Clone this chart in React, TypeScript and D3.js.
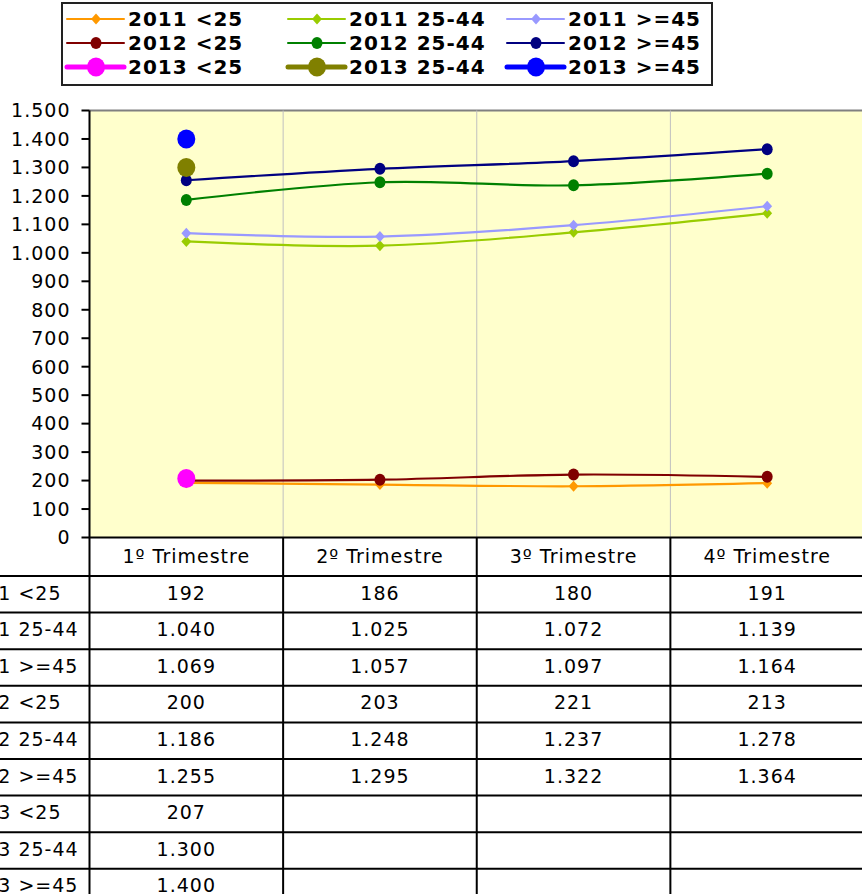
import React from 'react';
import * as d3 from 'd3';

const quarters = ['1º Trimestre', '2º Trimestre', '3º Trimestre', '4º Trimestre'];
const seriesNames = [
  '2011 <25', '2011 25-44', '2011 >=45',
  '2012 <25', '2012 25-44', '2012 >=45',
  '2013 <25', '2013 25-44', '2013 >=45',
];
const s2011u25 = [192, 186, 180, 191];
const s2011m = [1040, 1025, 1072, 1139];
const s2011o45 = [1069, 1057, 1097, 1164];
const s2012u25 = [200, 203, 221, 213];
const s2012m = [1186, 1248, 1237, 1278];
const s2012o45 = [1255, 1295, 1322, 1364];
const s2013u25 = [207];
const s2013m = [1300];
const s2013o45 = [1400];
const yTicks = d3.range(0, 1501, 100);

const seriesValues = [s2011u25, s2011m, s2011o45, s2012u25, s2012m, s2012o45, s2013u25, s2013m, s2013o45];
const colors = ['#FF9900', '#99CC00', '#9999FF', '#800000', '#008000', '#000080', '#FF00FF', '#808000', '#0000FF'];
// marker kind per year group
const markerOf = (i: number) => (i < 3 ? 'diamond' : i < 6 ? 'circle' : 'big');

const fmt = d3.formatLocale({ decimal: ',', thousands: '.', grouping: [3], currency: ['', '€'] }).format(',d');

const W = 862;
const H = 894;
const plot = { left: 89.5, top: 110.5, bottom: 537.5, right: 864 };
const rowH = 36.6;
const headerBottom = 576;
const FONT = '"DejaVu Sans", Verdana, sans-serif';

function Marker({ kind, x, y, color }: { kind: string; x: number; y: number; color: string }) {
  if (kind === 'diamond') {
    const s = 5.5;
    return <path d={`M${x},${y - s}L${x + s * 0.9},${y}L${x},${y + s}L${x - s * 0.9},${y}Z`} fill={color} />;
  }
  if (kind === 'circle') return <ellipse cx={x} cy={y} rx={5.5} ry={6} fill={color} />;
  return <ellipse cx={x} cy={y} rx={9} ry={9.5} fill={color} />;
}

export default function App() {
  const x = d3.scaleBand<string>().domain(quarters).range([plot.left, plot.right]).padding(0);
  const cx = (q: string) => (x(q) || 0) + x.bandwidth() / 2;
  const y = d3.scaleLinear().domain([0, 1500]).range([plot.bottom, plot.top]);
  const line = d3.line<number>()
    .x((_, i) => cx(quarters[i]))
    .y(d => y(d))
    .curve(d3.curveCatmullRom.alpha(0.5));

  const legendCols = [67, 288, 507];
  const legendRows = [19, 43, 67];

  return (
    <svg width={W} height={H} style={{ position: 'absolute', left: 0, top: 0, background: '#fff' }} fontFamily={FONT}>
      {/* legend */}
      <rect x={62} y={3} width={650} height={82} fill="#fff" stroke="#222" strokeWidth={2} />
      {seriesNames.map((name, i) => {
        const lx = legendCols[i % 3];
        const ly = legendRows[Math.floor(i / 3)];
        const kind = markerOf(i);
        return (
          <g key={name}>
            <line x1={lx} x2={lx + 57} y1={ly} y2={ly} stroke={colors[i]} strokeWidth={kind === 'big' ? 5 : 2} strokeLinecap="round" />
            <Marker kind={kind} x={lx + 29} y={ly} color={colors[i]} />
            <text x={lx + 61} y={ly} dy="0.36em" fontSize={20} fontWeight="bold" letterSpacing={1} fill="#000">{name}</text>
          </g>
        );
      })}

      {/* plot area */}
      <rect x={plot.left} y={plot.top} width={plot.right - plot.left} height={plot.bottom - plot.top} fill="#FFFFCC" />
      <line x1={plot.left} x2={plot.right} y1={plot.top} y2={plot.top} stroke="#808080" strokeWidth={2} />
      {quarters.slice(1).map(q => (
        <line key={q} x1={x(q)} x2={x(q)} y1={plot.top} y2={plot.bottom} stroke="#C0C0C0" strokeWidth={1} />
      ))}

      {/* y axis */}
      {yTicks.map(t => (
        <g key={t}>
          <line x1={plot.left - 8} x2={plot.left} y1={y(t)} y2={y(t)} stroke="#000" strokeWidth={2} />
          <text x={plot.left - 19} y={y(t)} dy="0.36em" textAnchor="end" fontSize={19} letterSpacing={1} fill="#000">{fmt(t)}</text>
        </g>
      ))}

      {/* series */}
      {seriesValues.map((vals, i) => (
        <g key={seriesNames[i]}>
          {vals.length > 1 && <path d={line(vals) || ''} fill="none" stroke={colors[i]} strokeWidth={2.2} />}
          {vals.map((v, j) => (
            <Marker key={j} kind={markerOf(i)} x={cx(quarters[j])} y={y(v)} color={colors[i]} />
          ))}
        </g>
      ))}

      {/* data table */}
      {quarters.map(q => (
        <text key={q} x={cx(q)} y={(plot.bottom + headerBottom) / 2 - 1} dy="0.36em" textAnchor="middle" fontSize={19} letterSpacing={1} fill="#000">{q}</text>
      ))}
      {seriesNames.map((name, i) => {
        const top = headerBottom + i * rowH;
        const mid = top + rowH / 2 - 1.5;
        return (
          <g key={name}>
            <text x={-41} y={mid} dy="0.36em" fontSize={19} letterSpacing={1} fill="#000">{name}</text>
            {seriesValues[i].map((v, j) => (
              <text key={j} x={cx(quarters[j])} y={mid} dy="0.36em" textAnchor="middle" fontSize={19} letterSpacing={1} fill="#000">{fmt(v)}</text>
            ))}
          </g>
        );
      })}
      {d3.range(seriesNames.length + 1).map(k => (
        <line key={k} x1={0} x2={W} y1={headerBottom + k * rowH} y2={headerBottom + k * rowH} stroke="#000" strokeWidth={2} />
      ))}
      <line x1={plot.left} x2={W} y1={plot.bottom} y2={plot.bottom} stroke="#000" strokeWidth={2} />
      <line x1={plot.left} x2={plot.left} y1={plot.top} y2={H} stroke="#000" strokeWidth={2} />
      {quarters.slice(1).map(q => (
        <line key={q} x1={x(q)} x2={x(q)} y1={plot.bottom} y2={H} stroke="#000" strokeWidth={2} />
      ))}
    </svg>
  );
}
